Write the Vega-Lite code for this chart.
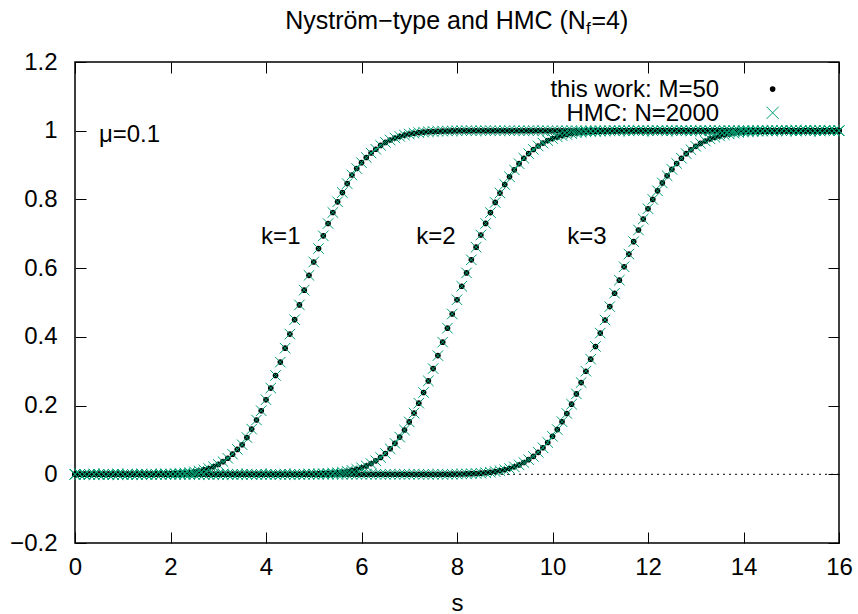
{
"$schema":"https://vega.github.io/schema/vega-lite/v6.json",
"width":764,"height":481,
"autosize":"none",
"padding":{"left":75,"top":62,"right":19,"bottom":71},
"background":"white",
"config":{"view":{"stroke":"black","strokeWidth":1.5},"font":"Liberation Sans","text":{"font":"Liberation Sans","fontSize":24,"color":"black"}},
"datasets":{"curves":[
{"s":0,"k":1,"y":0},{"s":0.1,"k":1,"y":0},{"s":0.2,"k":1,"y":0},{"s":0.3,"k":1,"y":0},{"s":0.4,"k":1,"y":0},{"s":0.5,"k":1,"y":0},{"s":0.6,"k":1,"y":0},{"s":0.7,"k":1,"y":0},{"s":0.8,"k":1,"y":0},{"s":0.9,"k":1,"y":0},
{"s":1,"k":1,"y":0},{"s":1.1,"k":1,"y":0},{"s":1.2,"k":1,"y":0},{"s":1.3,"k":1,"y":0},{"s":1.4,"k":1,"y":0},{"s":1.5,"k":1,"y":0},{"s":1.6,"k":1,"y":0},{"s":1.7,"k":1,"y":0.0004},{"s":1.8,"k":1,"y":0.0006},{"s":1.9,"k":1,"y":0.0009},
{"s":2,"k":1,"y":0.0013},{"s":2.1,"k":1,"y":0.0019},{"s":2.2,"k":1,"y":0.0027},{"s":2.3,"k":1,"y":0.0038},{"s":2.4,"k":1,"y":0.0052},{"s":2.5,"k":1,"y":0.0071},{"s":2.6,"k":1,"y":0.0096},{"s":2.7,"k":1,"y":0.0129},{"s":2.8,"k":1,"y":0.0169},{"s":2.9,"k":1,"y":0.0222},
{"s":3,"k":1,"y":0.0287},{"s":3.1,"k":1,"y":0.0367},{"s":3.2,"k":1,"y":0.0466},{"s":3.3,"k":1,"y":0.0585},{"s":3.4,"k":1,"y":0.0725},{"s":3.5,"k":1,"y":0.086},{"s":3.6,"k":1,"y":0.107},{"s":3.7,"k":1,"y":0.1315},{"s":3.8,"k":1,"y":0.158},{"s":3.9,"k":1,"y":0.185},
{"s":4,"k":1,"y":0.217},{"s":4.1,"k":1,"y":0.251},{"s":4.2,"k":1,"y":0.2876},{"s":4.3,"k":1,"y":0.3265},{"s":4.4,"k":1,"y":0.367},{"s":4.5,"k":1,"y":0.408},{"s":4.6,"k":1,"y":0.45},{"s":4.7,"k":1,"y":0.493},{"s":4.8,"k":1,"y":0.536},{"s":4.9,"k":1,"y":0.579},
{"s":5,"k":1,"y":0.618},{"s":5.1,"k":1,"y":0.657},{"s":5.2,"k":1,"y":0.694},{"s":5.3,"k":1,"y":0.73},{"s":5.4,"k":1,"y":0.762},{"s":5.5,"k":1,"y":0.793},{"s":5.6,"k":1,"y":0.82},{"s":5.7,"k":1,"y":0.846},{"s":5.8,"k":1,"y":0.871},{"s":5.9,"k":1,"y":0.89},
{"s":6,"k":1,"y":0.907},{"s":6.1,"k":1,"y":0.922},{"s":6.2,"k":1,"y":0.935},{"s":6.3,"k":1,"y":0.946},{"s":6.4,"k":1,"y":0.9573},{"s":6.5,"k":1,"y":0.9659},{"s":6.6,"k":1,"y":0.9729},{"s":6.7,"k":1,"y":0.9788},{"s":6.8,"k":1,"y":0.9835},{"s":6.9,"k":1,"y":0.9872},
{"s":7,"k":1,"y":0.9903},{"s":7.1,"k":1,"y":0.9927},{"s":7.2,"k":1,"y":0.9945},{"s":7.3,"k":1,"y":0.9959},{"s":7.4,"k":1,"y":0.997},{"s":7.5,"k":1,"y":0.9978},{"s":7.6,"k":1,"y":0.9984},{"s":7.7,"k":1,"y":0.9989},{"s":7.8,"k":1,"y":0.9992},{"s":7.9,"k":1,"y":0.9995},
{"s":8,"k":1,"y":0.9997},{"s":8.1,"k":1,"y":1},{"s":8.2,"k":1,"y":1},{"s":8.3,"k":1,"y":1},{"s":8.4,"k":1,"y":1},{"s":8.5,"k":1,"y":1},{"s":8.6,"k":1,"y":1},{"s":8.7,"k":1,"y":1},{"s":8.8,"k":1,"y":1},{"s":8.9,"k":1,"y":1},
{"s":9,"k":1,"y":1},{"s":9.1,"k":1,"y":1},{"s":9.2,"k":1,"y":1},{"s":9.3,"k":1,"y":1},{"s":9.4,"k":1,"y":1},{"s":9.5,"k":1,"y":1},{"s":9.6,"k":1,"y":1},{"s":9.7,"k":1,"y":1},{"s":9.8,"k":1,"y":1},{"s":9.9,"k":1,"y":1},
{"s":10,"k":1,"y":1},{"s":10.1,"k":1,"y":1},{"s":10.2,"k":1,"y":1},{"s":10.3,"k":1,"y":1},{"s":10.4,"k":1,"y":1},{"s":10.5,"k":1,"y":1},{"s":10.6,"k":1,"y":1},{"s":10.7,"k":1,"y":1},{"s":10.8,"k":1,"y":1},{"s":10.9,"k":1,"y":1},
{"s":11,"k":1,"y":1},{"s":11.1,"k":1,"y":1},{"s":11.2,"k":1,"y":1},{"s":11.3,"k":1,"y":1},{"s":11.4,"k":1,"y":1},{"s":11.5,"k":1,"y":1},{"s":11.6,"k":1,"y":1},{"s":11.7,"k":1,"y":1},{"s":11.8,"k":1,"y":1},{"s":11.9,"k":1,"y":1},
{"s":12,"k":1,"y":1},{"s":12.1,"k":1,"y":1},{"s":12.2,"k":1,"y":1},{"s":12.3,"k":1,"y":1},{"s":12.4,"k":1,"y":1},{"s":12.5,"k":1,"y":1},{"s":12.6,"k":1,"y":1},{"s":12.7,"k":1,"y":1},{"s":12.8,"k":1,"y":1},{"s":12.9,"k":1,"y":1},
{"s":13,"k":1,"y":1},{"s":13.1,"k":1,"y":1},{"s":13.2,"k":1,"y":1},{"s":13.3,"k":1,"y":1},{"s":13.4,"k":1,"y":1},{"s":13.5,"k":1,"y":1},{"s":13.6,"k":1,"y":1},{"s":13.7,"k":1,"y":1},{"s":13.8,"k":1,"y":1},{"s":13.9,"k":1,"y":1},
{"s":14,"k":1,"y":1},{"s":14.1,"k":1,"y":1},{"s":14.2,"k":1,"y":1},{"s":14.3,"k":1,"y":1},{"s":14.4,"k":1,"y":1},{"s":14.5,"k":1,"y":1},{"s":14.6,"k":1,"y":1},{"s":14.7,"k":1,"y":1},{"s":14.8,"k":1,"y":1},{"s":14.9,"k":1,"y":1},
{"s":15,"k":1,"y":1},{"s":15.1,"k":1,"y":1},{"s":15.2,"k":1,"y":1},{"s":15.3,"k":1,"y":1},{"s":15.4,"k":1,"y":1},{"s":15.5,"k":1,"y":1},{"s":15.6,"k":1,"y":1},{"s":15.7,"k":1,"y":1},{"s":15.8,"k":1,"y":1},{"s":15.9,"k":1,"y":1},
{"s":16,"k":1,"y":1},
{"s":0,"k":2,"y":0},{"s":0.1,"k":2,"y":0},{"s":0.2,"k":2,"y":0},{"s":0.3,"k":2,"y":0},{"s":0.4,"k":2,"y":0},{"s":0.5,"k":2,"y":0},{"s":0.6,"k":2,"y":0},{"s":0.7,"k":2,"y":0},{"s":0.8,"k":2,"y":0},{"s":0.9,"k":2,"y":0},
{"s":1,"k":2,"y":0},{"s":1.1,"k":2,"y":0},{"s":1.2,"k":2,"y":0},{"s":1.3,"k":2,"y":0},{"s":1.4,"k":2,"y":0},{"s":1.5,"k":2,"y":0},{"s":1.6,"k":2,"y":0},{"s":1.7,"k":2,"y":0},{"s":1.8,"k":2,"y":0},{"s":1.9,"k":2,"y":0},
{"s":2,"k":2,"y":0},{"s":2.1,"k":2,"y":0},{"s":2.2,"k":2,"y":0},{"s":2.3,"k":2,"y":0},{"s":2.4,"k":2,"y":0},{"s":2.5,"k":2,"y":0},{"s":2.6,"k":2,"y":0},{"s":2.7,"k":2,"y":0},{"s":2.8,"k":2,"y":0},{"s":2.9,"k":2,"y":0},
{"s":3,"k":2,"y":0},{"s":3.1,"k":2,"y":0},{"s":3.2,"k":2,"y":0},{"s":3.3,"k":2,"y":0},{"s":3.4,"k":2,"y":0},{"s":3.5,"k":2,"y":0},{"s":3.6,"k":2,"y":0},{"s":3.7,"k":2,"y":0},{"s":3.8,"k":2,"y":0},{"s":3.9,"k":2,"y":0},
{"s":4,"k":2,"y":0},{"s":4.1,"k":2,"y":0},{"s":4.2,"k":2,"y":0},{"s":4.3,"k":2,"y":0},{"s":4.4,"k":2,"y":0},{"s":4.5,"k":2,"y":0},{"s":4.6,"k":2,"y":0},{"s":4.7,"k":2,"y":0},{"s":4.8,"k":2,"y":0.0004},{"s":4.9,"k":2,"y":0.0006},
{"s":5,"k":2,"y":0.0009},{"s":5.1,"k":2,"y":0.0013},{"s":5.2,"k":2,"y":0.0018},{"s":5.3,"k":2,"y":0.0025},{"s":5.4,"k":2,"y":0.0035},{"s":5.5,"k":2,"y":0.0047},{"s":5.6,"k":2,"y":0.0063},{"s":5.7,"k":2,"y":0.0085},{"s":5.8,"k":2,"y":0.0112},{"s":5.9,"k":2,"y":0.0147},
{"s":6,"k":2,"y":0.019},{"s":6.1,"k":2,"y":0.0244},{"s":6.2,"k":2,"y":0.0312},{"s":6.3,"k":2,"y":0.0392},{"s":6.4,"k":2,"y":0.049},{"s":6.5,"k":2,"y":0.0606},{"s":6.6,"k":2,"y":0.0742},{"s":6.7,"k":2,"y":0.09},{"s":6.8,"k":2,"y":0.1083},{"s":6.9,"k":2,"y":0.1289},
{"s":7,"k":2,"y":0.1524},{"s":7.1,"k":2,"y":0.1783},{"s":7.2,"k":2,"y":0.207},{"s":7.3,"k":2,"y":0.2381},{"s":7.4,"k":2,"y":0.2718},{"s":7.5,"k":2,"y":0.3076},{"s":7.6,"k":2,"y":0.3454},{"s":7.7,"k":2,"y":0.3846},{"s":7.8,"k":2,"y":0.4253},{"s":7.9,"k":2,"y":0.4666},
{"s":8,"k":2,"y":0.5079},{"s":8.1,"k":2,"y":0.5472},{"s":8.2,"k":2,"y":0.5861},{"s":8.3,"k":2,"y":0.6242},{"s":8.4,"k":2,"y":0.661},{"s":8.5,"k":2,"y":0.6964},{"s":8.6,"k":2,"y":0.7301},{"s":8.7,"k":2,"y":0.7618},{"s":8.8,"k":2,"y":0.7912},{"s":8.9,"k":2,"y":0.8185},
{"s":9,"k":2,"y":0.8433},{"s":9.1,"k":2,"y":0.8659},{"s":9.2,"k":2,"y":0.8862},{"s":9.3,"k":2,"y":0.904},{"s":9.4,"k":2,"y":0.9199},{"s":9.5,"k":2,"y":0.9334},{"s":9.6,"k":2,"y":0.9454},{"s":9.7,"k":2,"y":0.9555},{"s":9.8,"k":2,"y":0.964},{"s":9.9,"k":2,"y":0.9712},
{"s":10,"k":2,"y":0.9771},{"s":10.1,"k":2,"y":0.982},{"s":10.2,"k":2,"y":0.9859},{"s":10.3,"k":2,"y":0.9891},{"s":10.4,"k":2,"y":0.9916},{"s":10.5,"k":2,"y":0.9937},{"s":10.6,"k":2,"y":0.9952},{"s":10.7,"k":2,"y":0.9964},{"s":10.8,"k":2,"y":0.9973},{"s":10.9,"k":2,"y":0.998},
{"s":11,"k":2,"y":0.9986},{"s":11.1,"k":2,"y":0.999},{"s":11.2,"k":2,"y":0.9993},{"s":11.3,"k":2,"y":0.9995},{"s":11.4,"k":2,"y":1},{"s":11.5,"k":2,"y":1},{"s":11.6,"k":2,"y":1},{"s":11.7,"k":2,"y":1},{"s":11.8,"k":2,"y":1},{"s":11.9,"k":2,"y":1},
{"s":12,"k":2,"y":1},{"s":12.1,"k":2,"y":1},{"s":12.2,"k":2,"y":1},{"s":12.3,"k":2,"y":1},{"s":12.4,"k":2,"y":1},{"s":12.5,"k":2,"y":1},{"s":12.6,"k":2,"y":1},{"s":12.7,"k":2,"y":1},{"s":12.8,"k":2,"y":1},{"s":12.9,"k":2,"y":1},
{"s":13,"k":2,"y":1},{"s":13.1,"k":2,"y":1},{"s":13.2,"k":2,"y":1},{"s":13.3,"k":2,"y":1},{"s":13.4,"k":2,"y":1},{"s":13.5,"k":2,"y":1},{"s":13.6,"k":2,"y":1},{"s":13.7,"k":2,"y":1},{"s":13.8,"k":2,"y":1},{"s":13.9,"k":2,"y":1},
{"s":14,"k":2,"y":1},{"s":14.1,"k":2,"y":1},{"s":14.2,"k":2,"y":1},{"s":14.3,"k":2,"y":1},{"s":14.4,"k":2,"y":1},{"s":14.5,"k":2,"y":1},{"s":14.6,"k":2,"y":1},{"s":14.7,"k":2,"y":1},{"s":14.8,"k":2,"y":1},{"s":14.9,"k":2,"y":1},
{"s":15,"k":2,"y":1},{"s":15.1,"k":2,"y":1},{"s":15.2,"k":2,"y":1},{"s":15.3,"k":2,"y":1},{"s":15.4,"k":2,"y":1},{"s":15.5,"k":2,"y":1},{"s":15.6,"k":2,"y":1},{"s":15.7,"k":2,"y":1},{"s":15.8,"k":2,"y":1},{"s":15.9,"k":2,"y":1},
{"s":16,"k":2,"y":1},
{"s":0,"k":3,"y":0},{"s":0.1,"k":3,"y":0},{"s":0.2,"k":3,"y":0},{"s":0.3,"k":3,"y":0},{"s":0.4,"k":3,"y":0},{"s":0.5,"k":3,"y":0},{"s":0.6,"k":3,"y":0},{"s":0.7,"k":3,"y":0},{"s":0.8,"k":3,"y":0},{"s":0.9,"k":3,"y":0},
{"s":1,"k":3,"y":0},{"s":1.1,"k":3,"y":0},{"s":1.2,"k":3,"y":0},{"s":1.3,"k":3,"y":0},{"s":1.4,"k":3,"y":0},{"s":1.5,"k":3,"y":0},{"s":1.6,"k":3,"y":0},{"s":1.7,"k":3,"y":0},{"s":1.8,"k":3,"y":0},{"s":1.9,"k":3,"y":0},
{"s":2,"k":3,"y":0},{"s":2.1,"k":3,"y":0},{"s":2.2,"k":3,"y":0},{"s":2.3,"k":3,"y":0},{"s":2.4,"k":3,"y":0},{"s":2.5,"k":3,"y":0},{"s":2.6,"k":3,"y":0},{"s":2.7,"k":3,"y":0},{"s":2.8,"k":3,"y":0},{"s":2.9,"k":3,"y":0},
{"s":3,"k":3,"y":0},{"s":3.1,"k":3,"y":0},{"s":3.2,"k":3,"y":0},{"s":3.3,"k":3,"y":0},{"s":3.4,"k":3,"y":0},{"s":3.5,"k":3,"y":0},{"s":3.6,"k":3,"y":0},{"s":3.7,"k":3,"y":0},{"s":3.8,"k":3,"y":0},{"s":3.9,"k":3,"y":0},
{"s":4,"k":3,"y":0},{"s":4.1,"k":3,"y":0},{"s":4.2,"k":3,"y":0},{"s":4.3,"k":3,"y":0},{"s":4.4,"k":3,"y":0},{"s":4.5,"k":3,"y":0},{"s":4.6,"k":3,"y":0},{"s":4.7,"k":3,"y":0},{"s":4.8,"k":3,"y":0},{"s":4.9,"k":3,"y":0},
{"s":5,"k":3,"y":0},{"s":5.1,"k":3,"y":0},{"s":5.2,"k":3,"y":0},{"s":5.3,"k":3,"y":0},{"s":5.4,"k":3,"y":0},{"s":5.5,"k":3,"y":0},{"s":5.6,"k":3,"y":0},{"s":5.7,"k":3,"y":0},{"s":5.8,"k":3,"y":0},{"s":5.9,"k":3,"y":0},
{"s":6,"k":3,"y":0},{"s":6.1,"k":3,"y":0},{"s":6.2,"k":3,"y":0},{"s":6.3,"k":3,"y":0},{"s":6.4,"k":3,"y":0},{"s":6.5,"k":3,"y":0},{"s":6.6,"k":3,"y":0},{"s":6.7,"k":3,"y":0},{"s":6.8,"k":3,"y":0},{"s":6.9,"k":3,"y":0},
{"s":7,"k":3,"y":0},{"s":7.1,"k":3,"y":0},{"s":7.2,"k":3,"y":0},{"s":7.3,"k":3,"y":0},{"s":7.4,"k":3,"y":0},{"s":7.5,"k":3,"y":0},{"s":7.6,"k":3,"y":0},{"s":7.7,"k":3,"y":0},{"s":7.8,"k":3,"y":0},{"s":7.9,"k":3,"y":0.0003},
{"s":8,"k":3,"y":0.0005},{"s":8.1,"k":3,"y":0.0008},{"s":8.2,"k":3,"y":0.0012},{"s":8.3,"k":3,"y":0.0017},{"s":8.4,"k":3,"y":0.0024},{"s":8.5,"k":3,"y":0.0033},{"s":8.6,"k":3,"y":0.0044},{"s":8.7,"k":3,"y":0.0058},{"s":8.8,"k":3,"y":0.0078},{"s":8.9,"k":3,"y":0.0102},
{"s":9,"k":3,"y":0.0132},{"s":9.1,"k":3,"y":0.0169},{"s":9.2,"k":3,"y":0.0216},{"s":9.3,"k":3,"y":0.0273},{"s":9.4,"k":3,"y":0.0342},{"s":9.5,"k":3,"y":0.0425},{"s":9.6,"k":3,"y":0.0522},{"s":9.7,"k":3,"y":0.064},{"s":9.8,"k":3,"y":0.0772},{"s":9.9,"k":3,"y":0.0926},
{"s":10,"k":3,"y":0.1104},{"s":10.1,"k":3,"y":0.1301},{"s":10.2,"k":3,"y":0.153},{"s":10.3,"k":3,"y":0.177},{"s":10.4,"k":3,"y":0.204},{"s":10.5,"k":3,"y":0.234},{"s":10.6,"k":3,"y":0.267},{"s":10.7,"k":3,"y":0.3},{"s":10.8,"k":3,"y":0.335},{"s":10.9,"k":3,"y":0.372},
{"s":11,"k":3,"y":0.411},{"s":11.1,"k":3,"y":0.449},{"s":11.2,"k":3,"y":0.488},{"s":11.3,"k":3,"y":0.527},{"s":11.4,"k":3,"y":0.565},{"s":11.5,"k":3,"y":0.604},{"s":11.6,"k":3,"y":0.641},{"s":11.7,"k":3,"y":0.677},{"s":11.8,"k":3,"y":0.711},{"s":11.9,"k":3,"y":0.743},
{"s":12,"k":3,"y":0.773},{"s":12.1,"k":3,"y":0.8},{"s":12.2,"k":3,"y":0.825},{"s":12.3,"k":3,"y":0.848},{"s":12.4,"k":3,"y":0.869},{"s":12.5,"k":3,"y":0.8875},{"s":12.6,"k":3,"y":0.9047},{"s":12.7,"k":3,"y":0.9199},{"s":12.8,"k":3,"y":0.9332},{"s":12.9,"k":3,"y":0.9446},
{"s":13,"k":3,"y":0.9546},{"s":13.1,"k":3,"y":0.963},{"s":13.2,"k":3,"y":0.97},{"s":13.3,"k":3,"y":0.9761},{"s":13.4,"k":3,"y":0.9809},{"s":13.5,"k":3,"y":0.9849},{"s":13.6,"k":3,"y":0.9882},{"s":13.7,"k":3,"y":0.9908},{"s":13.8,"k":3,"y":0.993},{"s":13.9,"k":3,"y":0.9947},
{"s":14,"k":3,"y":0.996},{"s":14.1,"k":3,"y":0.997},{"s":14.2,"k":3,"y":0.9978},{"s":14.3,"k":3,"y":0.9984},{"s":14.4,"k":3,"y":0.9988},{"s":14.5,"k":3,"y":0.9991},{"s":14.6,"k":3,"y":0.9994},{"s":14.7,"k":3,"y":0.9996},{"s":14.8,"k":3,"y":1},{"s":14.9,"k":3,"y":1},
{"s":15,"k":3,"y":1},{"s":15.1,"k":3,"y":1},{"s":15.2,"k":3,"y":1},{"s":15.3,"k":3,"y":1},{"s":15.4,"k":3,"y":1},{"s":15.5,"k":3,"y":1},{"s":15.6,"k":3,"y":1},{"s":15.7,"k":3,"y":1},{"s":15.8,"k":3,"y":1},{"s":15.9,"k":3,"y":1},
{"s":16,"k":3,"y":1}
]},
"resolve":{"axis":{"x":"independent","y":"independent"}},
"layer":[
{"data":{"values":[{"z":0}]},"mark":{"type":"rule","color":"black","strokeDash":[2,4],"strokeWidth":1},
 "encoding":{"y":{"field":"z","type":"quantitative","scale":{"domain":[-0.2,1.2],"nice":false,"zero":false},"axis":null}}},
{"data":{"name":"curves"},"mark":{"type":"point","shape":"circle","filled":true,"color":"black","size":32,"opacity":1},
 "encoding":{
  "x":{"field":"s","type":"quantitative","scale":{"domain":[0,16],"nice":false,"zero":false},
   "axis":{"orient":"bottom","values":[0,2,4,6,8,10,12,14,16],"format":"~g","title":"s","grid":false,"domain":false,"tickSize":-11,"tickColor":"black","tickWidth":1,"labelFontSize":24,"labelColor":"black","labelPadding":23,"labelFlush":false,"labelOverlap":false,"labelBound":false,"labelFont":"Liberation Sans","titleFont":"Liberation Sans","titleFontSize":24,"titleFontWeight":"normal","titleColor":"black","titlePadding":12}},
  "y":{"field":"y","type":"quantitative","scale":{"domain":[-0.2,1.2],"nice":false,"zero":false},
   "axis":{"orient":"left","values":[-0.2,0,0.2,0.4,0.6,0.8,1,1.2],"format":"~g","title":null,"grid":false,"domain":false,"tickSize":-11,"tickColor":"black","tickWidth":1,"labelFontSize":24,"labelColor":"black","labelPadding":29,"labelFlush":false,"labelOverlap":false,"labelBound":false,"labelFont":"Liberation Sans"}}}},
{"data":{"name":"curves"},"mark":{"type":"point","shape":"M-1,-1L1,1M-1,1L1,-1","filled":false,"stroke":"#009e73","strokeWidth":1,"size":110,"opacity":1},
 "encoding":{
  "x":{"field":"s","type":"quantitative","scale":{"domain":[0,16],"nice":false,"zero":false},
   "axis":{"orient":"top","values":[0,2,4,6,8,10,12,14,16],"labels":false,"title":null,"grid":false,"domain":false,"tickSize":-11,"tickColor":"black","tickWidth":1}},
  "y":{"field":"y","type":"quantitative","scale":{"domain":[-0.2,1.2],"nice":false,"zero":false},
   "axis":{"orient":"right","values":[-0.2,0,0.2,0.4,0.6,0.8,1,1.2],"labels":false,"title":null,"grid":false,"domain":false,"tickSize":-11,"tickColor":"black","tickWidth":1}}}},
{"data":{"values":[{"t":"k=1"}]},"mark":{"type":"text","align":"center","baseline":"alphabetic"},
 "encoding":{"text":{"field":"t"},"x":{"datum":4.31,"type":"quantitative","axis":null},"y":{"datum":0.671,"type":"quantitative","axis":null}}},
{"data":{"values":[{"t":"k=2"}]},"mark":{"type":"text","align":"center","baseline":"alphabetic"},
 "encoding":{"text":{"field":"t"},"x":{"datum":7.56,"type":"quantitative","axis":null},"y":{"datum":0.671,"type":"quantitative","axis":null}}},
{"data":{"values":[{"t":"k=3"}]},"mark":{"type":"text","align":"center","baseline":"alphabetic"},
 "encoding":{"text":{"field":"t"},"x":{"datum":10.72,"type":"quantitative","axis":null},"y":{"datum":0.671,"type":"quantitative","axis":null}}},
{"data":{"values":[{"t":"μ=0.1"}]},"mark":{"type":"text","align":"left","baseline":"alphabetic"},
 "encoding":{"text":{"field":"t"},"x":{"datum":0.5,"type":"quantitative","axis":null},"y":{"datum":0.968,"type":"quantitative","axis":null}}},
{"data":{"values":[{"t":"this work: M=50"}]},"mark":{"type":"text","align":"right","baseline":"alphabetic"},
 "encoding":{"text":{"field":"t"},"x":{"datum":13.49,"type":"quantitative","axis":null},"y":{"datum":1.099,"type":"quantitative","axis":null}}},
{"data":{"values":[{"t":"HMC: N=2000"}]},"mark":{"type":"text","align":"right","baseline":"alphabetic"},
 "encoding":{"text":{"field":"t"},"x":{"datum":13.49,"type":"quantitative","axis":null},"y":{"datum":1.0274,"type":"quantitative","axis":null}}},
{"data":{"values":[{"t":"this work: M=50"}]},"mark":{"type":"point","shape":"circle","filled":true,"color":"black","size":32,"opacity":1},
 "encoding":{"x":{"datum":14.61,"type":"quantitative","axis":null},"y":{"datum":1.1211,"type":"quantitative","axis":null}}},
{"data":{"values":[{"t":"HMC: N=2000"}]},"mark":{"type":"point","shape":"M-1,-1L1,1M-1,1L1,-1","filled":false,"stroke":"#009e73","strokeWidth":1,"size":150,"opacity":1},
 "encoding":{"x":{"datum":14.61,"type":"quantitative","axis":null},"y":{"datum":1.0521,"type":"quantitative","axis":null}}},
{"data":{"values":[{"t":"Nyström−type and HMC (N"}]},"mark":{"type":"text","align":"right","baseline":"alphabetic","fontSize":25},
 "encoding":{"text":{"field":"t"},"x":{"datum":10.7,"type":"quantitative","axis":null},"y":{"datum":1.2957,"type":"quantitative","axis":null}}},
{"data":{"values":[{"t":"f"}]},"mark":{"type":"text","align":"left","baseline":"alphabetic","fontSize":17,"dy":5},
 "encoding":{"text":{"field":"t"},"x":{"datum":10.7,"type":"quantitative","axis":null},"y":{"datum":1.2957,"type":"quantitative","axis":null}}},
{"data":{"values":[{"t":"=4)"}]},"mark":{"type":"text","align":"left","baseline":"alphabetic","fontSize":25,"dx":5.5},
 "encoding":{"text":{"field":"t"},"x":{"datum":10.7,"type":"quantitative","axis":null},"y":{"datum":1.2957,"type":"quantitative","axis":null}}}
]
}
